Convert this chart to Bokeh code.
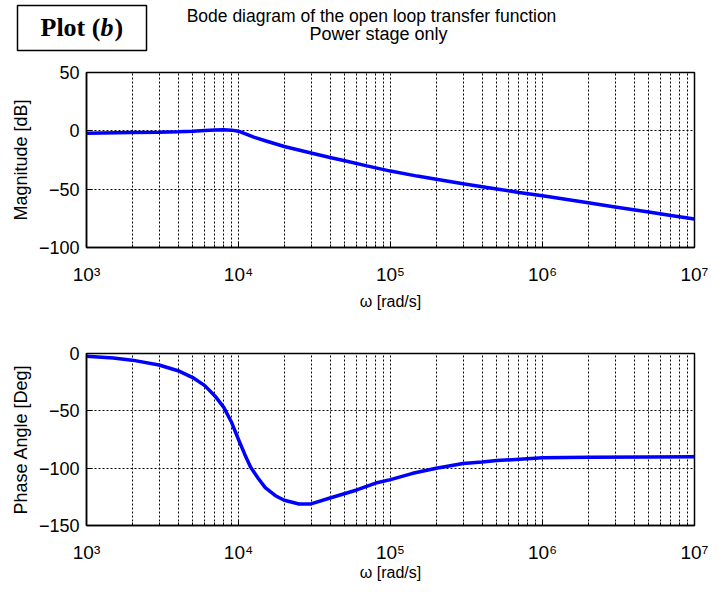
from bokeh.plotting import figure
from bokeh.layouts import column
from bokeh.models import FixedTicker, Label, BoxAnnotation, Range1d
from bokeh.embed import file_html
from bokeh.resources import INLINE

# ---------------- data ----------------
omega_mag = [1e3, 2e3, 3e3, 4e3, 5e3, 6e3, 7e3, 8e3, 9e3, 1e4, 1.26e4, 1.5e4,
             2e4, 3e4, 4e4, 5e4, 7e4, 1e5, 1.5e5, 2e5, 3e5, 5e5, 7e5, 1e6,
             2e6, 3e6, 5e6, 7e6, 1e7]
mag_db = [-2.0, -1.5, -1.2, -0.8, -0.3, 0.3, 0.8, 1.0, 0.6, -0.3, -5.4, -8.5,
          -13.4, -19.0, -22.8, -25.6, -30.0, -34.5, -38.8, -41.5, -45.3, -49.8, -52.8, -55.7,
          -61.7, -65.2, -69.6, -72.5, -75.5]

omega_phase = [1e3, 1.5e3, 2e3, 3e3, 4e3, 5e3, 6e3, 7e3, 8e3, 9e3, 1e4, 1.1e4, 1.2e4,
               1.35e4, 1.5e4, 1.75e4, 2e4, 2.5e4, 3e4, 4e4, 6e4, 8e4, 1e5, 1.4e5, 2e5,
               3e5, 4e5, 5e5, 1e6, 2e6, 5e6, 1e7]
phase_deg = [-2.5, -4.0, -5.8, -10.0, -15.0, -21.0, -28.0, -37.0, -47.0, -60.0, -75.0, -88.0, -99.0,
             -109.0, -117.0, -124.0, -128.0, -131.2, -131.2, -126.0, -119.0, -113.0, -110.0, -104.5, -100.0,
             -96.0, -94.6, -93.4, -91.0, -90.5, -90.2, -90.1]

x_major = [1000, 10000, 100000, 1000000, 10000000]
x_minor = [m * 10 ** d for d in range(3, 7) for m in range(2, 10)]
x_tick_labels = ["10³", "10⁴", "10⁵", "10⁶", "10⁷"]
mag_ticks = [-100, -50, 0, 50]
phase_ticks = [-150, -100, -50, 0]

title_line1 = "Bode diagram of the open loop transfer function"
title_line2 = "Power stage only"
tag_parts = ["Plot (", "b", ")"]

FONT = "Liberation Sans"
SERIF = "Liberation Serif"
DOT = "2 2"

# ---------------- header strip (pixel coordinates) ----------------
HDR_H = 60
hdr = figure(width=722, height=HDR_H, x_range=Range1d(0, 722), y_range=Range1d(HDR_H, 0),
             output_backend="svg", toolbar_location=None,
             x_axis_location=None, y_axis_location=None,
             min_border=0, min_border_left=0, min_border_right=0,
             min_border_top=0, min_border_bottom=0)
hdr.frame_align = False
hdr.grid.visible = False
hdr.outline_line_color = None
hdr.background_fill_color = "white"
hdr.border_fill_color = "white"

hdr.add_layout(Label(x=371, y=15, text=title_line1, text_font=FONT, text_font_size="17.5px",
                     text_align="center", text_baseline="middle", text_color="black"))
hdr.add_layout(Label(x=378, y=33, text=title_line2, text_font=FONT, text_font_size="18px",
                     text_align="center", text_baseline="middle", text_color="black"))
hdr.add_layout(BoxAnnotation(left=17, right=146, top=5, bottom=50,
                             fill_alpha=0, line_color="black", line_width=1.5, line_alpha=1))
mid_y = 27
hdr.add_layout(Label(x=40, y=mid_y, text=tag_parts[0], text_font=SERIF, text_font_size="26px",
                     text_font_style="bold", text_baseline="middle", text_color="black"))
hdr.add_layout(Label(x=100, y=mid_y, text=tag_parts[1], text_font=SERIF, text_font_size="26px",
                     text_font_style="bold italic", text_baseline="middle", text_color="black"))
hdr.add_layout(Label(x=114, y=mid_y, text=tag_parts[2], text_font=SERIF, text_font_size="26px",
                     text_font_style="bold", text_baseline="middle", text_color="black"))


def make_fig(height, b_top, b_bottom, yr, yticks, ylabel, xlabel_standoff):
    p = figure(width=722, height=height, x_axis_type="log",
               x_range=Range1d(1e3, 1e7), y_range=Range1d(*yr),
               output_backend="svg", toolbar_location=None,
               min_border_left=86, min_border_right=28,
               min_border_top=b_top, min_border_bottom=b_bottom)
    p.background_fill_color = "white"
    p.border_fill_color = "white"
    p.outline_line_color = "black"
    p.outline_line_width = 1.5
    p.outline_line_alpha = 1.0

    p.xaxis.ticker = FixedTicker(ticks=x_major, minor_ticks=x_minor)
    p.xaxis.major_label_overrides = {t: s for t, s in zip(x_major, x_tick_labels)}
    p.yaxis.ticker = FixedTicker(ticks=yticks)

    for ax in (p.xaxis[0], p.yaxis[0]):
        ax.axis_line_color = "black"
        ax.axis_line_width = 1.5
        ax.major_tick_in = 6
        ax.major_tick_out = 0
        ax.minor_tick_in = 3
        ax.minor_tick_out = 0
        ax.major_tick_line_color = "black"
        ax.minor_tick_line_color = "black"
        ax.major_label_text_font = FONT
        ax.major_label_text_font_size = "18px"
        ax.major_label_text_color = "black"
        ax.axis_label_text_font = FONT
        ax.axis_label_text_font_style = "normal"
        ax.axis_label_text_color = "black"
    p.yaxis.minor_tick_line_color = None
    p.xaxis.major_label_text_font_size = "19px"

    p.xaxis.major_label_standoff = 16
    p.xaxis.axis_label = "ω [rad/s]"
    p.xaxis.axis_label_text_font_size = "16px"
    p.xaxis.axis_label_standoff = xlabel_standoff

    p.yaxis.major_label_standoff = 7
    p.yaxis.axis_label = ylabel
    p.yaxis.axis_label_text_font_size = "18px"
    p.yaxis.axis_label_standoff = 5

    p.xgrid.grid_line_color = "black"
    p.xgrid.grid_line_dash = DOT
    p.xgrid.grid_line_width = 1
    p.xgrid.minor_grid_line_color = "black"
    p.xgrid.minor_grid_line_dash = DOT
    p.xgrid.minor_grid_line_width = 1
    p.ygrid.grid_line_color = "black"
    p.ygrid.grid_line_dash = DOT
    p.ygrid.grid_line_width = 1
    return p


# ---------------- magnitude ----------------
p1 = make_fig(315 - HDR_H, 12, 68, (-100, 50), mag_ticks, "Magnitude [dB]", 5)
p1.line(omega_mag, mag_db, line_color="#0000ff", line_width=3.5)

# ---------------- phase ----------------
p2 = make_fig(277, 38, 67, (-150, 0), phase_ticks, "Phase Angle [Deg]", -2)
p2.line(omega_phase, phase_deg, line_color="#0000ff", line_width=3.5)

layout = column(hdr, p1, p2, spacing=0)
open("out.html", "w").write(file_html(layout, INLINE))
